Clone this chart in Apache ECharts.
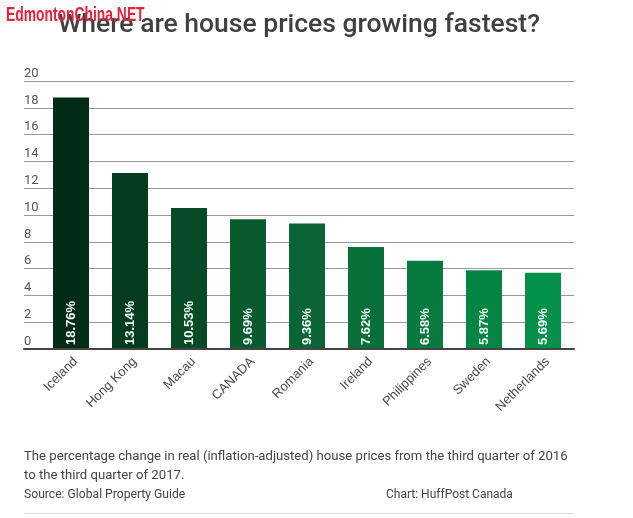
<!DOCTYPE html>
<html>
<head>
<meta charset="utf-8">
<style>
html, body { margin: 0; padding: 0; background: #fff; }
#chart { width: 633px; height: 518px; }
</style>
<script src="https://cdn.jsdelivr.net/npm/echarts@6/dist/echarts.min.js"></script>
</head>
<body>
<div id="chart"></div>
<script>
const paises = ['Iceland', 'Hong Kong', 'Macau', 'CANADA', 'Romania', 'Ireland', 'Philippines', 'Sweden', 'Netherlands']
const valores = [18.76, 13.14, 10.53, 9.69, 9.36, 7.62, 6.58, 5.87, 5.69]
const cores = ['#032c18', '#053c20', '#084a28', '#0a5a30', '#0a6536', '#086f3a', '#077a3f', '#058544', '#03904a']

let myChart = echarts.init(document.getElementById('chart'), null, { renderer: 'canvas' })

myChart.setOption({
    backgroundColor: '#fff',
    animation: false,
    title: [
        {
            text: 'Where are house prices growing fastest?',
            left: 58,
            top: 12,
            padding: 0,
            textStyle: { fontFamily: 'Roboto', fontSize: 26.5, fontWeight: 500, color: '#404040' }
        },
        {
            text: 'The percentage change in real (inflation-adjusted) house prices from the third quarter of 2016',
            left: 24,
            top: 450,
            padding: 0,
            textStyle: { fontFamily: 'Roboto', fontSize: 13.15, fontWeight: 400, color: '#444' }
        },
        {
            text: 'to the third quarter of 2017.',
            left: 24,
            top: 469,
            padding: 0,
            textStyle: { fontFamily: 'Roboto', fontSize: 13.15, fontWeight: 400, color: '#444' }
        },
        {
            text: 'Source: Global Property Guide',
            left: 24,
            top: 489,
            padding: 0,
            textStyle: { fontFamily: 'Roboto', fontSize: 12.15, fontWeight: 400, color: '#444' }
        },
        {
            text: 'Chart: HuffPost Canada',
            left: 386,
            top: 489,
            padding: 0,
            textStyle: { fontFamily: 'Roboto', fontSize: 12, fontWeight: 400, color: '#444' }
        }
    ],
    graphic: [
        {
            type: 'line',
            shape: { x1: 24, y1: 513.5, x2: 574, y2: 513.5 },
            style: { stroke: '#d4d4d4', lineWidth: 1 }
        },
        {
            // marca d'agua por cima do titulo
            type: 'text',
            x: 6,
            y: 5,
            scaleX: 0.66,
            z: 10,
            style: {
                text: 'EdmontonChina.NET',
                fontFamily: 'Liberation Sans',
                fontSize: 21,
                fontWeight: 'bold',
                fill: '#e8203c'
            }
        }
    ],
    grid: [
        { left: 24, width: 550, top: 81, height: 268 }, // linhas de fundo
        { left: 41.5, width: 531, top: 81, height: 268 } // barras
    ],
    xAxis: [
        {
            gridIndex: 0,
            type: 'category',
            data: [''],
            axisTick: { show: false },
            axisLabel: { show: false },
            axisLine: { show: true, lineStyle: { color: '#444', width: 2 } },
            z: 5
        },
        {
            gridIndex: 1,
            type: 'category',
            data: paises,
            axisTick: { show: false },
            axisLine: { show: false },
            axisLabel: {
                interval: 0,
                rotate: 45,
                margin: 6,
                verticalAlign: 'top',
                fontFamily: 'Liberation Sans',
                fontSize: 13,
                color: '#4a4a4a'
            }
        }
    ],
    yAxis: [
        {
            gridIndex: 0,
            type: 'value',
            min: 0,
            max: 20,
            interval: 2,
            axisLine: { show: false },
            axisTick: { show: false },
            splitLine: { show: true, lineStyle: { color: '#999', width: 1 } },
            axisLabel: {
                inside: true,
                margin: 0,
                verticalAlign: 'bottom',
                padding: [0, 0, 1, 0],
                fontFamily: 'Roboto',
                fontSize: 13,
                color: '#555'
            }
        },
        {
            gridIndex: 1,
            type: 'value',
            min: 0,
            max: 20,
            show: false
        }
    ],
    series: [
        {
            type: 'bar',
            xAxisIndex: 1,
            yAxisIndex: 1,
            barWidth: 36,
            data: valores,
            itemStyle: { color: (p) => cores[p.dataIndex] },
            label: {
                show: true,
                position: 'insideBottom',
                rotate: 90,
                align: 'left',
                verticalAlign: 'middle',
                distance: 4,
                formatter: (p) => p.value.toFixed(2) + '%',
                fontFamily: 'Liberation Sans',
                fontSize: 13,
                fontWeight: 'bold',
                color: '#f2fff6'
            }
        }
    ]
})

window.addEventListener('resize', () => {
    myChart.resize()
})
</script>
</body>
</html>
